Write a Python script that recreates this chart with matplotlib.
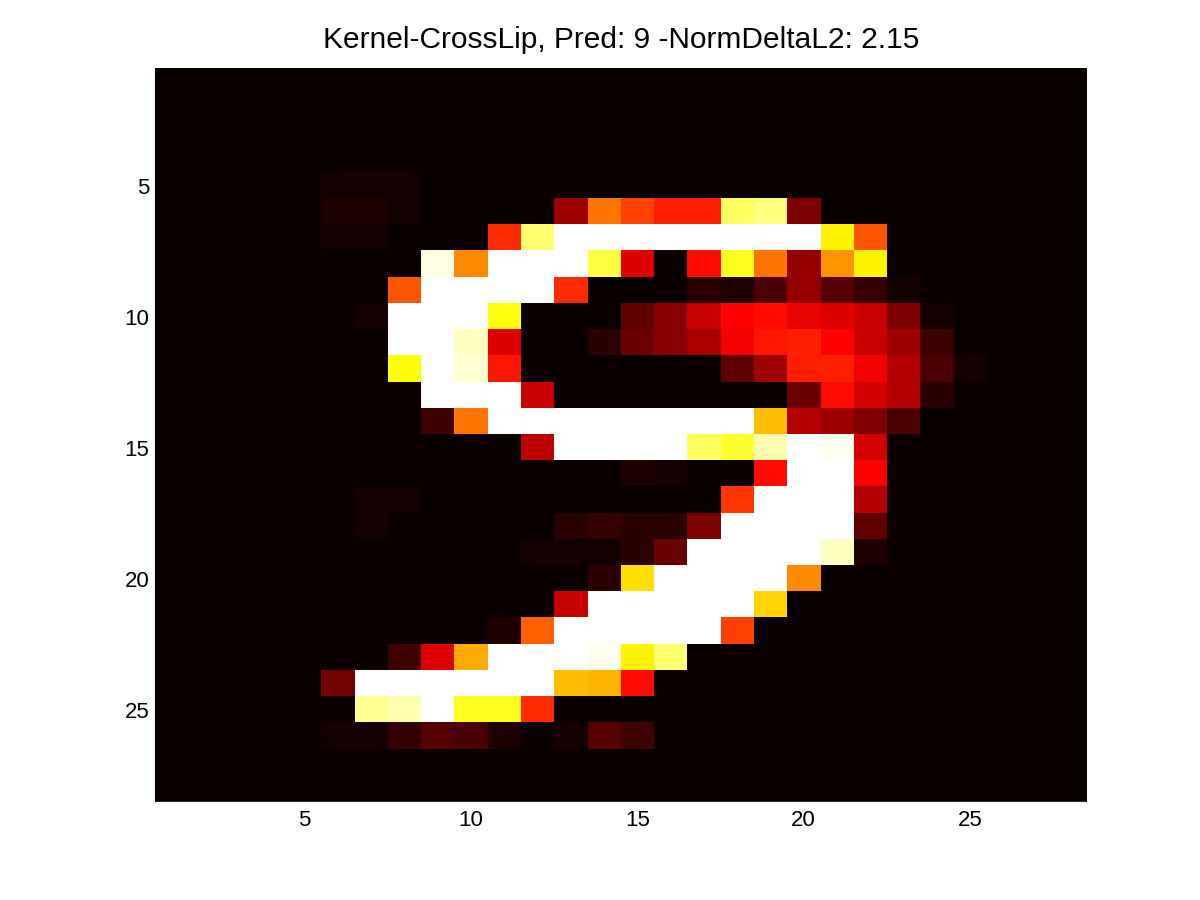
import numpy as np
import matplotlib
matplotlib.use("Agg")
import matplotlib.pyplot as plt
from matplotlib.colors import ListedColormap

title_text = "Kernel-CrossLip, Pred: 9 -NormDeltaL2: 2.15"
tick_values = [5, 10, 15, 20, 25]

# colour level (1..64) of each image cell
levels = [
 [1]*28,
 [1]*28,
 [1]*28,
 [1]*28,
 [1,1,1,1,1,2,2,2,1,1,1,1,1,1,1,1,1,1,1,1,1,1,1,1,1,1,1,1],
 [1,1,1,1,1,3,3,2,1,1,1,1,15,35,30,27,27,54,56,12,1,1,1,1,1,1,1,1],
 [1,1,1,1,1,2,2,1,1,1,28,55,64,64,64,64,64,64,64,64,47,32,1,1,1,1,1,1],
 [1,1,1,1,1,1,1,1,62,37,64,64,64,52,21,1,25,50,35,14,38,47,1,1,1,1,1,1],
 [1,1,1,1,1,1,1,32,64,64,64,64,28,1,1,1,4,3,7,14,8,5,2,1,1,1,1,1],
 [1,1,1,1,1,1,2,64,64,64,49,1,1,1,9,13,19,24,25,22,21,19,12,2,1,1,1,1],
 [1,1,1,1,1,1,1,64,64,60,21,1,1,4,10,13,16,23,26,27,24,19,15,6,1,1,1,1],
 [1,1,1,1,1,1,1,48,64,61,26,1,1,1,1,1,1,9,15,27,27,23,17,7,2,1,1,1],
 [1,1,1,1,1,1,1,1,64,64,64,19,1,1,1,1,1,1,1,10,25,20,17,4,1,1,1,1],
 [1,1,1,1,1,1,1,1,6,35,64,64,64,64,64,64,64,64,42,17,15,12,7,1,1,1,1,1],
 [1,1,1,1,1,1,1,1,1,1,1,18,64,64,64,64,54,51,59,64,63,20,1,1,1,1,1,1],
 [1,1,1,1,1,1,1,1,1,1,1,1,1,1,3,2,1,1,25,64,64,24,1,1,1,1,1,1],
 [1,1,1,1,1,1,2,2,1,1,1,1,1,1,1,1,1,29,64,64,64,17,1,1,1,1,1,1],
 [1,1,1,1,1,1,2,1,1,1,1,1,4,5,4,4,12,64,64,64,64,9,1,1,1,1,1,1],
 [1,1,1,1,1,1,1,1,1,1,1,2,2,2,4,10,64,64,64,64,60,3,1,1,1,1,1,1],
 [1,1,1,1,1,1,1,1,1,1,1,1,1,4,45,64,64,64,64,37,1,1,1,1,1,1,1,1],
 [1,1,1,1,1,1,1,1,1,1,1,1,19,64,64,64,64,64,44,1,1,1,1,1,1,1,1,1],
 [1,1,1,1,1,1,1,1,1,1,3,33,64,64,64,64,64,30,1,1,1,1,1,1,1,1,1,1],
 [1,1,1,1,1,1,1,6,21,40,64,64,64,63,47,55,1,1,1,1,1,1,1,1,1,1,1,1],
 [1,1,1,1,1,11,64,64,64,64,64,64,42,41,25,1,1,1,1,1,1,1,1,1,1,1,1,1],
 [1,1,1,1,1,1,57,59,64,50,50,28,1,1,1,1,1,1,1,1,1,1,1,1,1,1,1,1],
 [1,1,1,1,1,2,2,5,8,7,3,1,2,8,6,1,1,1,1,1,1,1,1,1,1,1,1,1],
 [1]*28,
 [1]*28,
]

# 64-step "hot" colour table: red, then green, then blue ramp up
k = np.arange(1, 65)
table = np.column_stack([
    np.clip(k / 24, 0, 1),
    np.clip((k - 24) / 24, 0, 1),
    np.clip((k - 48) / 16, 0, 1),
])
hot64 = ListedColormap(table)

plt.rcParams['font.family'] = ['Liberation Sans', 'DejaVu Sans']

fig = plt.figure(figsize=(12, 9), dpi=100, facecolor='white')
ax = fig.add_axes([155/1200, 98.6/900, 931.4/1200, 733.5/900])
ax.imshow(np.array(levels), cmap=hot64, vmin=0.5, vmax=64.5,
          interpolation='nearest', aspect='auto',
          extent=(0.5, 28.5, 28.5, 0.5))
ax.set_xticks(tick_values)
ax.set_yticks(tick_values)
ax.tick_params(axis='x', direction='in', length=7, width=0.6, color='black',
               labelsize=16, pad=6.5)
ax.tick_params(axis='y', direction='in', length=7, width=0.6, color='black',
               labelsize=16, pad=4)
for s in ax.spines.values():
    s.set_linewidth(0.6)
ax.set_title(title_text, fontsize=21.5, color='black', pad=14)

fig.savefig("out.png", dpi=100)
